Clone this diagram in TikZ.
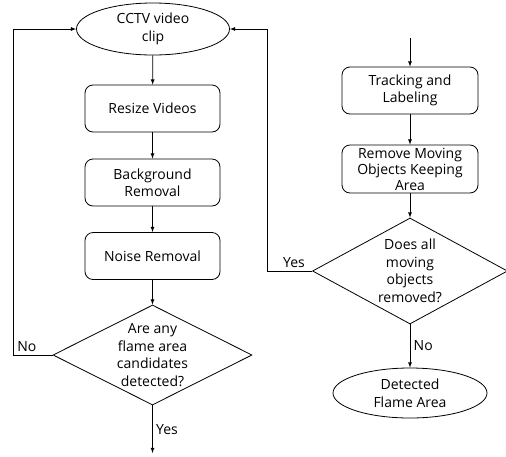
\documentclass[tikz,border=0pt]{standalone}
\usepackage{fontspec}
\setmainfont{Open Sans}
\usetikzlibrary{shapes.geometric}

\begin{document}
\begin{tikzpicture}[x=1pt,y=-1pt,line width=0.8pt,
		every node/.style={font=\fontsize{14}{17.5}\selectfont,align=center},
		box/.style={draw,rounded corners=8pt,minimum width=135pt,minimum height=47pt,inner sep=0pt},
		term/.style={draw,ellipse,inner sep=0pt},
		ask/.style={draw,diamond,inner sep=0pt}]
	\useasboundingbox (0,0) rectangle (506,456);
	% left column
	\node[term,minimum width=153pt,minimum height=52pt] (clip) at (153,29) {CCTV video\\clip};
	\node[box] (resize) at (152.5,108.5) {Resize Videos};
	\node[box] (bg) at (152.5,182.5) {Background\\Removal};
	\node[box] (noise) at (152.5,256) {Noise Removal};
	\node[ask,aspect=2,minimum width=199pt,minimum height=100pt] (cand) at (152.5,355) {Are any\\flame area\\candidates\\detected?};
	\coordinate (out) at (152.5,453);
	\coordinate (lft) at (13,355);
	\draw[-latex] (clip) -- (resize);
	\draw[-latex] (resize) -- (bg);
	\draw[-latex] (bg) -- (noise);
	\draw[-latex] (noise) -- (cand);
	\draw[-latex] (cand) -- (out) node[pos=0.5,right] {Yes};
	\draw[-latex] (cand.west) -- (lft) node[pos=0.65,above] {No} |- (clip.west);
	% right column
	\coordinate (in) at (410,38);
	\node[box,minimum width=136pt] (track) at (410,90.5) {Tracking and\\Labeling};
	\node[box,minimum width=136pt,minimum height=48pt,font=\fontsize{14}{16}\selectfont] (remove) at (410,169) {Remove Moving\\Objects Keeping\\Area};
	\node[ask,aspect=1.8,minimum width=195pt,minimum height=106pt] (gone) at (410,271) {Does all\\moving\\objects\\removed?};
	\node[term,minimum width=154pt,minimum height=50pt] (flame) at (410,393) {Detected\\Flame Area};
	\coordinate (rgt) at (267,271);
	\draw[-latex] (in) -- (track);
	\draw[-latex] (track) -- (remove);
	\draw[-latex] (remove) -- (gone);
	\draw[-latex] (gone) -- (flame) node[pos=0.5,right] {No};
	\draw[-latex] (gone.west) -- (rgt) node[pos=0.4,above] {Yes} |- (clip.east);
\end{tikzpicture}
\end{document}
